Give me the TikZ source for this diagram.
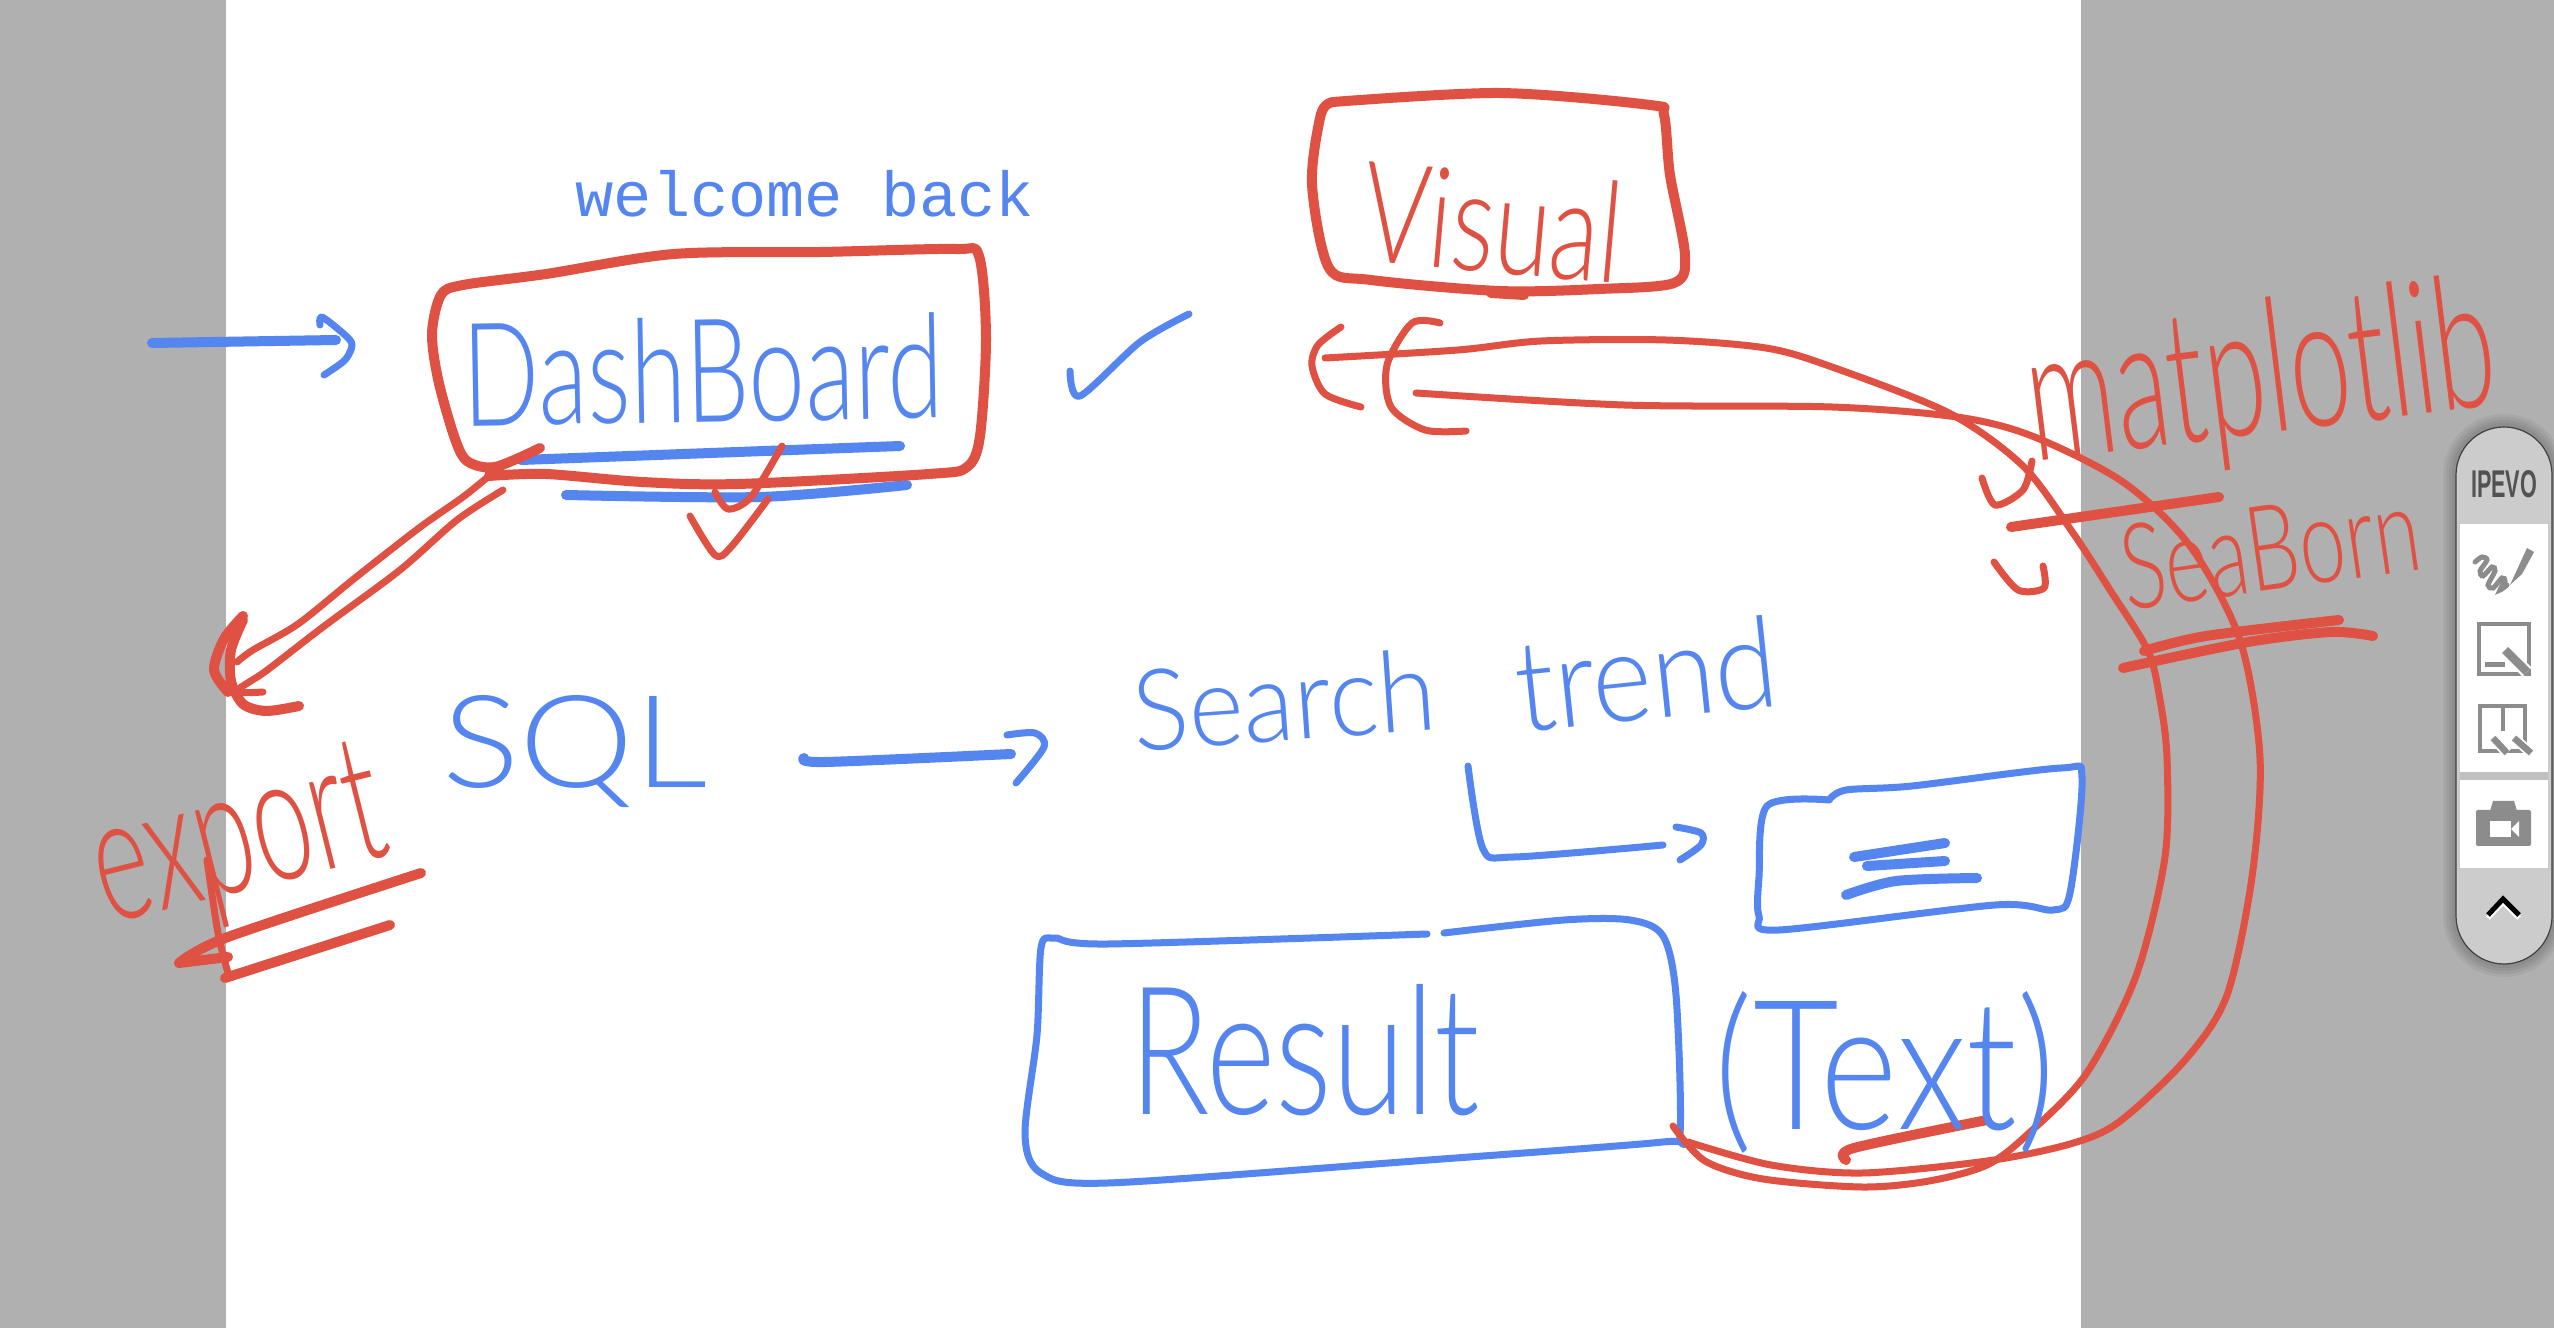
\documentclass[tikz,border=0pt]{standalone}
\usepackage{fontspec}
\setmainfont{Liberation Sans}
\newfontfamily\monofam{Liberation Mono}
\newfontfamily\handfont{Lato Light}
\definecolor{inkred}{HTML}{DF5142}
\definecolor{inkblue}{HTML}{5585EE}
\definecolor{pagegrey}{HTML}{B0B0B0}
\definecolor{barfill}{HTML}{CCCCCC}
\definecolor{icongrey}{HTML}{8C8C8C}
\newcommand\ink[2]{\draw[#1] plot[smooth,tension=.5] coordinates {#2};}
\newcommand\word[3]{\resizebox{#1cm}{#2cm}{\handfont #3}}
\tikzset{
  rd/.style={draw=inkred,line width=.07cm,line cap=round,line join=round},
  rdb/.style={rd,line width=.1cm},
  bl/.style={draw=inkblue,line width=.07cm,line cap=round,line join=round},
  blb/.style={bl,line width=.1cm},
  redword/.style={text=inkred,inner sep=0pt},
  blueword/.style={text=inkblue,inner sep=0pt},
  iconline/.style={draw=icongrey,line width=.04cm}
}
\begin{document}
\begin{tikzpicture}[x=.01cm,y=-.01cm]
\useasboundingbox (0,0) rectangle (2554,1328);
\fill[pagegrey] (0,0) rectangle (2554,1328);
\fill[white] (226,0) rectangle (2081,1328);
% --- blue boxes and arrows
\ink{bl}{(1427,934)(1108,944)(1054,938)(1041,948)(1037,1035)(1025,1134)(1041,1173)(1108,1183)(1415,1161)(1663,1142)(1680,1134)(1676,995)(1663,936)(1630,920)(1564,920)(1444,933)}
\ink{bl}{(1829,800)(1767,806)(1759,877)(1759,916)(1779,930)(1995,905)(2053,910)(2070,893)(2082,778)(2061,768)(1912,786)(1846,790)(1829,800)}
\ink{blb}{(1854,857)(1945,843)}
\ink{blb}{(1867,866)(1945,861)}
\ink{blb}{(1846,895)(1896,881)(1977,878)}
\ink{bl}{(1468,766)(1483,849)(1514,857)(1663,845)}
\ink{bl}{(1676,827)(1701,833)(1701,845)(1680,860)}
\ink{blb}{(152,343)(336,340)}
\ink{bl}{(320,325)(322,317)(345,335)(352,345)(345,360)(324,375)}
\ink{blb}{(804,758)(825,762)(1011,754)}
\ink{bl}{(1007,735)(1035,733)(1044,747)(1016,783)}
\ink{bl}{(1070,371)(1080,396)(1140,342)(1189,314)}
\ink{blb}{(521,460)(900,446)}
\ink{blb}{(566,495)(760,497)(907,485)}
% --- red boxes
\ink{rdb}{(540,448)(495,467)(467,461)(454,436)(438,379)(432,333)(441,295)(463,285)(546,274)(674,254)(821,252)(955,249)(979,256)(986,337)(980,436)(967,467)(929,474)(738,484)(642,482)(546,474)(489,476)}
\ink{rdb}{(1333,102)(1499,93)(1650,105)(1664,115)(1670,175)(1685,255)(1674,283)(1599,289)(1499,291)(1371,280)(1329,268)(1312,184)(1321,114)(1333,102)}
\ink{rdb}{(1491,293)(1524,295)}
% --- export arrow and ticks
\ink{rd}{(489,476)(463,497)(419,528)(355,578)(298,624)(253,650)(237,662)}
\ink{rd}{(503,490)(457,520)(400,570)(323,627)(266,671)(237,691)(263,692)}
\ink{rdb}{(243,616)(224,639)(214,670)(228,692)}
\ink{rdb}{(243,620)(231,650)(231,681)(243,704)(266,711)(299,706)}
\ink{rd}{(715,492)(728,509)(751,497)(782,446)}
\ink{rd}{(690,516)(715,555)(731,547)(768,499)}
% --- long red curves
\ink{rd}{(1325,358)(1458,350)(1541,341)(1666,340)(1766,348)(1832,367)(1949,413)(2023,466)(2073,533)(2110,590)(2148,651)(2160,700)(2167,758)(2165,857)(2136,976)(2086,1074)(2028,1134)(1987,1165)(1929,1181)(1862,1187)(1763,1179)(1705,1161)(1673,1126)}
\ink{rd}{(1416,393)(1624,405)(1832,407)(1957,417)(2032,436)(2123,482)(2190,546)(2240,640)(2260,758)(2252,877)(2227,995)(2186,1059)(2119,1122)(2070,1144)(1987,1161)(1862,1173)(1771,1165)(1688,1142)}
\ink{rd}{(1341,327)(1318,345)(1312,366)(1325,394)(1361,407)}
\ink{rd}{(1440,323)(1412,323)(1387,365)(1391,407)(1425,430)(1466,431)}
% --- red marks around the labels
\ink{rd}{(1982,478)(1995,505)(2023,490)(2032,461)}
\ink{rd}{(1994,562)(2018,590)(2044,588)(2043,566)}
\ink{rdb}{(2011,527)(2219,497)}
\ink{rdb}{(2144,651)(2206,636)(2339,620)}
\ink{rdb}{(2123,668)(2248,642)(2331,632)(2373,636)}
\ink{rdb}{(179,963)(228,937)(421,873)}
\ink{rdb}{(179,963)(228,957)}
\ink{rdb}{(225,978)(390,925)}
\ink{rd}{(207,860)(218,933)(228,973)}
\ink{rdb}{(1846,1160)(1854,1148)(1987,1120)}
% --- typed label
\node[blueword,anchor=base west,font=\monofam\fontsize{18.1}{20}\selectfont] (welcome) at (575,217) {welcome back};
% --- handwritten words
\node[blueword,rotate=1] (dash) at (703,370) {\word{4.8}{1.05}{DashBoard}};
\node[redword,rotate=-5] (visual) at (1493,222) {\word{2.6}{1.02}{Visual}};
\node[blueword] (sql) at (575,752) {\word{2.65}{.92}{SQL}};
\node[blueword,rotate=4] (search) at (1284,700) {\word{3.04}{.82}{Search}};
\node[blueword,rotate=6] (trend) at (1646,674) {\word{2.62}{.92}{trend}};
\node[blueword] (result) at (1305,1050) {\word{3.5}{1.3}{Result}};
\node[blueword] (text) at (1885,1072) {\word{3.4}{1.38}{(Text)}};
\node[redword,rotate=7] (matplotlib) at (2262,382) {\word{4.7}{1.35}{matplotlib}};
\node[redword,rotate=8] (seaborn) at (2270,548) {\word{3.0}{.85}{SeaBorn}};
\node[redword,rotate=14] (export) at (240,846) {\word{2.95}{1.2}{export}};
% --- toolbar
\foreach \w in {26,20,14,8}
  \draw[black,opacity=.05,line width=\w*.01cm,rounded corners=.48cm] (2456,427) rectangle (2552,964);
\draw[fill=barfill,draw=black!75,line width=.012cm,rounded corners=.48cm] (2456,427) rectangle (2552,964);
\fill[white] (2460,524) rectangle (2548,772);
\fill[pagegrey!80!white] (2460,772) rectangle (2548,780);
\fill[white] (2460,780) rectangle (2548,868);
\node[inner sep=0pt,text=black!68] (ipevo) at (2504,484) {\resizebox{.66cm}{.27cm}{\bfseries IPEVO}};
% pen icon
\ink{draw=icongrey,line width=.05cm,line cap=round}{(2475,562)(2482,557)(2487,560)(2480,571)(2483,576)(2492,567)(2495,571)(2488,585)(2493,588)(2502,578)(2505,581)(2500,590)(2507,585)}
\fill[icongrey] (2510,585) -- (2527,548) -- (2534,552) -- (2522,574) -- cycle;
% area icon
\draw[iconline] (2479,624) rectangle (2529,674);
\fill[icongrey] (2485,662) rectangle (2505,667);
\draw[white,line width=.13cm] (2505,650) -- (2527,672);
\draw[icongrey,line width=.085cm] (2505,650) -- (2527,672);
% split icon
\draw[iconline] (2480,706) rectangle (2525,751);
\draw[iconline] (2503,706) -- (2503,731);
\draw[white,line width=.1cm] (2493,738) -- (2507,753);
\draw[white,line width=.1cm] (2514,738) -- (2531,753);
\draw[icongrey,line width=.065cm] (2493,738) -- (2507,753);
\draw[icongrey,line width=.065cm] (2514,738) -- (2531,753);
% camera icon
\fill[icongrey,rounded corners=.02cm] (2476,810) rectangle (2531,846);
\fill[icongrey] (2490,811) -- (2493,801) -- (2514,801) -- (2517,811) -- cycle;
\fill[white] (2490,821) rectangle (2511,837);
\fill[white] (2511,829) -- (2519,821) -- (2519,837) -- cycle;
% chevron
\draw[white,line width=.05cm] (2488,918) -- (2503,902) -- (2519,918);
\draw[black,line width=.05cm] (2488,915) -- (2503,899) -- (2519,915);
\end{tikzpicture}
\end{document}
